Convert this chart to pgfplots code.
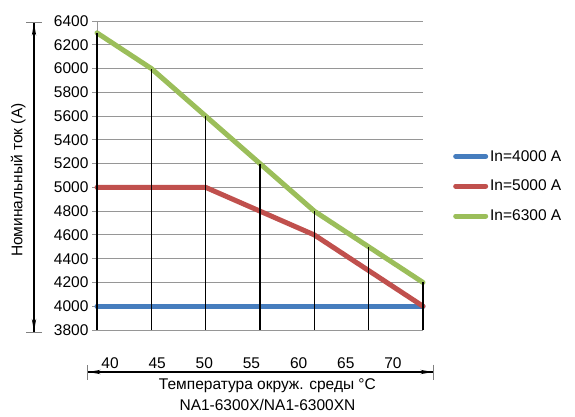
\documentclass[border=0pt]{standalone}
\usepackage{fontspec}
\setmainfont{Liberation Sans}
\usepackage{pgfplots}
\pgfplotsset{compat=1.18}
\usetikzlibrary{arrows.meta}
\definecolor{cblue}{RGB}{70,125,190}
\definecolor{cred}{RGB}{192,80,77}
\definecolor{cgreen}{RGB}{155,190,90}
\definecolor{cgrid}{RGB}{150,150,150}
\newcommand{\tf}{\fontsize{15.5}{18}\selectfont}
\begin{document}
\begin{tikzpicture}
\begin{axis}[
  at={(97pt,86pt)}, anchor=south west,
  scale only axis, width=326pt, height=309pt,
  xmin=0, xmax=6, ymin=3800, ymax=6400,
  ytick={3800,4000,...,6400},
  xtick=\empty,
  axis x line=none,
  axis y line*=left,
  y axis line style={cgrid, line width=0.9pt},
  ymajorgrids, grid style={cgrid, line width=0.9pt},
  ytick style={cgrid, line width=0.9pt},
  tick align=outside, major tick length=5pt,
  yticklabel style={font=\tf, text=black},
  /pgf/number format/assume math mode=true,
  /pgf/number format/set thousands separator={},
  clip=false,
  ylabel={Номинальный ток (А)},
  every axis y label/.style={at={(axis description cs:-0.242,0.485)}, rotate=90, anchor=center, font=\tf},
  legend cell align=left,
  legend style={at={(axis description cs:1.092,0.589)}, anchor=north west, draw=none, fill=none, font=\tf, row sep=13.5pt, inner sep=0pt},
  legend image code/.code={\draw[#1, line width=5pt, line cap=round] (0pt,0pt) -- (30pt,0pt);},
]
\addplot[cblue, line width=5pt, line cap=round] coordinates {(0,4000)(1,4000)(2,4000)(3,4000)(4,4000)(5,4000)(6,4000)};
\addlegendentry{In=4000 A}
\addplot[cred, line width=5pt, line cap=round, line join=round] coordinates {(0,5000)(1,5000)(2,5000)(3,4800)(4,4600)(5,4300)(6,4000)};
\addlegendentry{In=5000 A}
\addplot[cgreen, line width=5pt, line cap=round, line join=round] coordinates {(0,6300)(1,6000)(2,5600)(3,5200)(4,4800)(5,4500)(6,4200)};
\addlegendentry{In=6300 A}
\addplot[black, line width=1.3pt, forget plot, unbounded coords=jump] coordinates {
(0,3800)(0,6300)(0,nan)
(1,3800)(1,6000)(1,nan)
(2,3800)(2,5600)(2,nan)
(3,3800)(3,5200)(3,nan)
(4,3800)(4,4800)(4,nan)
(5,3800)(5,4500)(5,nan)
(6,3800)(6,4200)};
\end{axis}
\begin{axis}[
  at={(87pt,43pt)}, anchor=south west,
  scale only axis, width=347pt, height=1pt,
  xmin=37.56, xmax=74.35, ymin=0, ymax=1,
  hide y axis,
  axis x line*=top,
  x axis line style={line width=1.8pt, {Bar[width=15pt,line width=1pt,color=gray]Stealth[length=12pt,width=4pt]}-{Stealth[length=12pt,width=4pt]Bar[width=15pt,line width=1pt,color=gray]}},
  xtick={40,45,...,70},
  xtick style={draw=none},
  xticklabel style={font=\tf},
  /pgf/number format/assume math mode=true,
  xlabel={Температура окруж. среды °C\\[3pt]NA1-6300X/NA1-6300XN},
  every axis x label/.style={at={(axis description cs:0.52,0)}, anchor=north, yshift=-2pt, align=center, font=\tf},
]
\end{axis}
\draw[line width=1.8pt, {Bar[width=16pt,line width=1pt,color=gray]Stealth[length=12pt,width=4pt]}-{Stealth[length=12pt,width=4pt]Bar[width=16pt,line width=1pt,color=gray]}] (34pt,83.5pt) -- (34pt,394pt);
\pgfresetboundingbox
\useasboundingbox (0pt,0pt) rectangle (575pt,416pt);
\end{tikzpicture}
\end{document}
